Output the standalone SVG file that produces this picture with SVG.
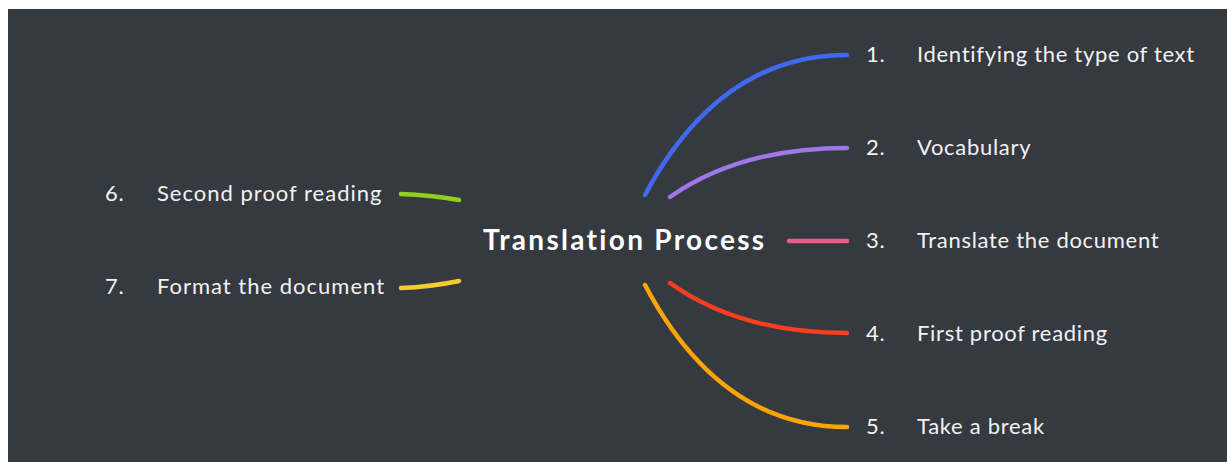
<svg xmlns="http://www.w3.org/2000/svg" width="1227" height="462" viewBox="0 0 1227 462">
<style>
.bg{fill:#353a40}
.c{fill:none;stroke-width:4.5;stroke-linecap:round}
.t{font-family:Lato,"Open Sans","Noto Sans",sans-serif;font-size:22px;letter-spacing:0.7px;fill:#f2f2f2}
.tl{letter-spacing:1px}
.title{font-family:Lato,"Open Sans","Noto Sans",sans-serif;font-size:28px;font-weight:bold;letter-spacing:2.3px;fill:#ffffff}
</style>
<rect x="0" y="0" width="1227" height="462" fill="#ffffff"/>
<rect class="bg" x="8" y="9" width="1219" height="453"/>
<g id="connectors">
<path class="c" stroke="#4169f0" d="M645,195 Q720,55 847,55"/>
<path class="c" stroke="#a077e6" d="M670,197 Q740,148 847,148"/>
<path class="c" stroke="#ef5b8b" d="M789,241 L847,241"/>
<path class="c" stroke="#fb3f1e" d="M670,283 Q740,333 847,333"/>
<path class="c" stroke="#fba502" d="M645,285 Q720,427 847,427"/>
<path class="c" stroke="#8fd11d" d="M401,194 Q430,195 459,200"/>
<path class="c" stroke="#f8cb2c" d="M401,288 Q430,287 459,281"/>
</g>
<g id="root"><text class="title" x="483" y="250">Translation Process</text></g>
<g id="n1"><text class="t" x="866" y="62">1.</text><text class="t" x="917" y="62">Identifying the type of text</text></g>
<g id="n2"><text class="t" x="866" y="155">2.</text><text class="t" x="917" y="155">Vocabulary</text></g>
<g id="n3"><text class="t" x="866" y="248">3.</text><text class="t" x="917" y="248">Translate the document</text></g>
<g id="n4"><text class="t" x="866" y="341">4.</text><text class="t" x="917" y="341">First proof reading</text></g>
<g id="n5"><text class="t" x="866" y="434">5.</text><text class="t" x="917" y="434">Take a break</text></g>
<g id="n6"><text class="t" x="105" y="201">6.</text><text class="t tl" x="157" y="201">Second proof reading</text></g>
<g id="n7"><text class="t" x="105" y="294">7.</text><text class="t tl" x="157" y="294">Format the document</text></g>
</svg>
